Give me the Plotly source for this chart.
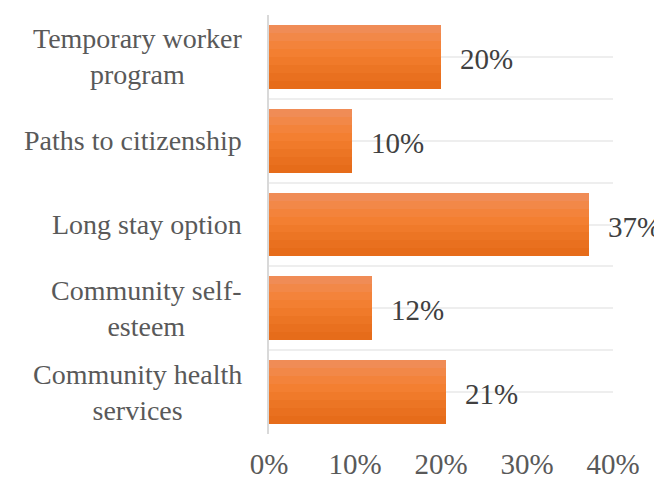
import plotly.graph_objects as go

categories = ["Temporary worker<br>program", "Paths to citizenship", "Long stay option",
              "Community self-<br>esteem", "Community health<br>services"]
values = [20.0, 9.6, 37.2, 12.0, 20.6]
x_ticks = [0, 10, 20, 30, 40]
x_tick_labels = ["0%", "10%", "20%", "30%", "40%"]

FONT = "'Times New Roman', 'Liberation Serif', serif"
idx = list(range(len(categories)))

fig = go.Figure()

bar_w = 0.76
slice_colors = ["#F08C56", "#F28848", "#F3833B", "#F37F31", "#F07A2A",
                "#EC7524", "#E9701F", "#E66C1A"]
n = len(slice_colors)
for i, c in enumerate(slice_colors):
    fig.add_trace(go.Bar(
        x=values, y=idx, orientation="h",
        width=bar_w / n,
        offset=-bar_w / 2 + i * bar_w / n,
        marker=dict(color=c, line=dict(width=0)),
        hoverinfo="skip", showlegend=False,
    ))

for i, v in enumerate(values):
    fig.add_annotation(
        x=v, xref="x", y=i, yref="y", xanchor="left", yanchor="middle",
        xshift=17, yshift=-2, text=f"{v:.0f}%", showarrow=False,
        font=dict(family=FONT, size=29, color="#404040"),
    )

for i, cat in enumerate(categories):
    fig.add_annotation(
        x=0, xref="paper", y=i, yref="y", xanchor="right", yanchor="middle",
        xshift=-25, text=cat, align="center", showarrow=False,
        font=dict(family=FONT, size=28, color="#595959"),
    )

# page body has an 8px margin, so the figure is shrunk and shifted accordingly
fig.update_layout(
    width=654, height=471,
    margin=dict(l=261, r=49, t=7, b=45, autoexpand=False),
    paper_bgcolor="white", plot_bgcolor="white",
    barmode="overlay", bargap=0,
    showlegend=False,
    font=dict(family=FONT),
    xaxis=dict(range=[0, 40], tickvals=x_ticks, ticktext=x_tick_labels,
               showgrid=False, zeroline=False, showline=False, automargin=False,
               tickfont=dict(family=FONT, size=29, color="#595959"),
               ticklabelstandoff=10, fixedrange=True),
    yaxis=dict(range=[4.5, -0.5], tickvals=idx, showticklabels=False,
               showgrid=True, gridcolor="#EEEEEE", gridwidth=1.5,
               minor=dict(dtick=0.5, tick0=0.5, showgrid=True,
                          gridcolor="#EEEEEE", gridwidth=1.5),
               zeroline=False, showline=True, linecolor="#D9D9D9", linewidth=2,
               automargin=False, fixedrange=True),
)

fig.write_html("out.html")
